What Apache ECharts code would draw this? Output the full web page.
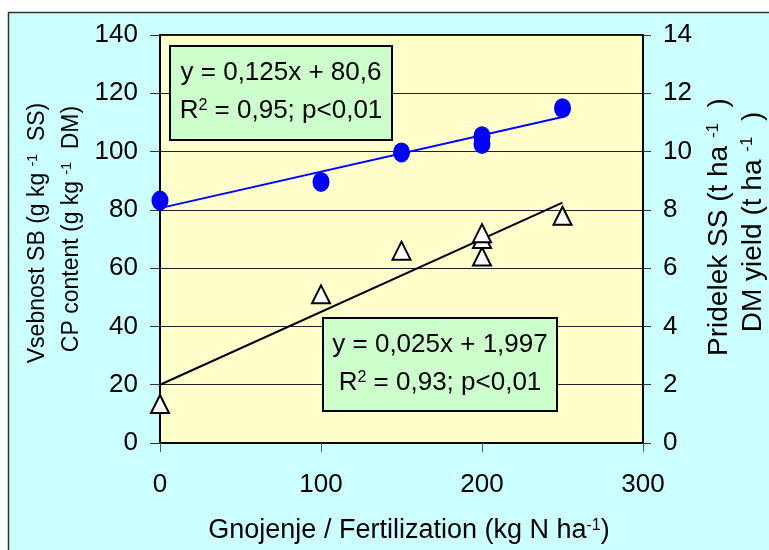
<!DOCTYPE html>
<html>
<head>
<meta charset="utf-8">
<title>Fertilization chart</title>
<script src="https://cdn.jsdelivr.net/npm/echarts@6/dist/echarts.min.js"></script>
<style>
  html, body { margin: 0; padding: 0; background: #fff; }
  #chart { width: 769px; height: 550px; }
</style>
</head>
<body>
<div id="chart"></div>
<script>
// crude protein content (left axis)
const cpX = [0, 100, 150, 200, 200, 250]
const cpY = [83.2, 89.6, 99.7, 102.6, 105.3, 114.9]
// DM yield (right axis)
const dmX = [0, 100, 150, 200, 200, 200, 250]
const dmY = [1.34, 5.1, 6.6, 6.4, 7.0, 7.2, 7.8]
// trend line ends
const trendX = [0, 250]
const cpTrend = [80.6, 111.85]
const dmTrend = [2.0, 8.25]
// texts
const leftTicks = [0, 20, 40, 60, 80, 100, 120, 140]
const rightTicks = [0, 2, 4, 6, 8, 10, 12, 14]
const xTicks = [0, 100, 200, 300]
const cpEq = ['y = 0,125x + 80,6', '0,95; p<0,01']
const dmEq = ['y = 0,025x + 1,997', '0,93; p<0,01']

const FONT = 'Liberation Sans, Arial, sans-serif'

function pairs(xs, ys) {
  return xs.map((x, i) => [x, ys[i]])
}

// rich text with a "-1" superscript
function supText(before, after, x, y, rot, size) {
  return {
    type: 'text',
    x: x,
    y: y,
    rotation: rot,
    z: 50,
    style: {
      text: '{a|' + before + '}{s|-1}{a|' + after + '}',
      align: 'center',
      verticalAlign: 'middle',
      rich: {
        a: { fontSize: size, fontFamily: FONT, fill: '#000' },
        s: { fontSize: Math.round(size * 0.6), fontFamily: FONT, fill: '#000', verticalAlign: 'top' }
      }
    }
  }
}

function eqBox(x, y, w, h, lines) {
  const cx = x + w / 2
  return [{
    type: 'rect',
    z: 40,
    shape: { x: x, y: y, width: w, height: h },
    style: { fill: '#ccffcc', stroke: '#000', lineWidth: 2 }
  }, {
    type: 'text',
    z: 41,
    x: cx,
    y: y + 27,
    style: { text: lines[0], align: 'center', verticalAlign: 'middle', fontSize: 26, fontFamily: FONT, fill: '#000' }
  }, {
    type: 'text',
    z: 41,
    x: cx,
    y: y + 65,
    style: {
      text: '{a|R}{s|2}{a| = ' + lines[1] + '}',
      align: 'center',
      verticalAlign: 'middle',
      rich: {
        a: { fontSize: 26, fontFamily: FONT, fill: '#000' },
        s: { fontSize: 16, fontFamily: FONT, fill: '#000', verticalAlign: 'top' }
      }
    }
  }]
}

const chart = echarts.init(document.getElementById('chart'))

const graphics = [
  // outer cyan panel, runs off the canvas
  {
    type: 'rect',
    z: -10,
    silent: true,
    shape: { x: 8.5, y: 12.5, width: 800, height: 600 },
    style: { fill: '#ccffff', stroke: '#333', lineWidth: 1.5 }
  },
  supText('Vsebnost SB (g kg ', '  SS)', 38, 233, Math.PI / 2, 23),
  supText('CP content (g kg ', '  DM)', 72, 229, Math.PI / 2, 23),
  supText('Pridelek SS (t ha ', '  )', 719, 227, Math.PI / 2, 28),
  supText('DM yield (t ha ', '  )', 753, 222, Math.PI / 2, 28),
  {
    type: 'text',
    x: 409,
    y: 531,
    z: 50,
    style: {
      text: '{a|Gnojenje / Fertilization (kg N ha}{s|-1}{a|)}',
      align: 'center',
      verticalAlign: 'middle',
      rich: {
        a: { fontSize: 27, fontFamily: FONT, fill: '#000' },
        s: { fontSize: 16, fontFamily: FONT, fill: '#000', verticalAlign: 'top' }
      }
    }
  }
].concat(eqBox(170, 46, 222, 94, cpEq), eqBox(323, 318, 234, 93, dmEq))

chart.setOption({
  animation: false,
  backgroundColor: '#fff',
  textStyle: { fontFamily: FONT },
  grid: {
    left: 160,
    top: 35,
    right: 126,
    bottom: 107,
    show: true,
    backgroundColor: '#ffffcc',
    borderColor: '#000',
    borderWidth: 2
  },
  xAxis: {
    type: 'value',
    min: xTicks[0],
    max: xTicks[xTicks.length - 1],
    interval: 100,
    axisLine: { show: true, lineStyle: { color: '#000', width: 2 } },
    axisTick: { show: true, inside: false, length: 9, lineStyle: { color: '#555', width: 1 } },
    axisLabel: { fontSize: 26, color: '#000', margin: 29 },
    splitLine: { show: false }
  },
  yAxis: [{
    type: 'value',
    position: 'left',
    min: leftTicks[0],
    max: leftTicks[leftTicks.length - 1],
    interval: 20,
    axisLine: { show: true, lineStyle: { color: '#000', width: 2 } },
    axisTick: { show: true, length: 10, lineStyle: { color: '#333', width: 1 } },
    axisLabel: { fontSize: 26, color: '#000', margin: 22 },
    splitLine: { show: true, lineStyle: { color: '#222', width: 1 } }
  }, {
    type: 'value',
    position: 'right',
    min: rightTicks[0],
    max: rightTicks[rightTicks.length - 1],
    interval: 2,
    axisLine: { show: true, lineStyle: { color: '#000', width: 2 } },
    axisTick: { show: true, length: 8, lineStyle: { color: '#333', width: 1 } },
    axisLabel: { fontSize: 26, color: '#000', margin: 20 },
    splitLine: { show: false }
  }],
  series: [
    {
      name: 'CP trend',
      type: 'line',
      yAxisIndex: 0,
      data: pairs(trendX, cpTrend),
      symbol: 'none',
      lineStyle: { color: '#0000ff', width: 2 },
      z: 3
    },
    {
      name: 'DM trend',
      type: 'line',
      yAxisIndex: 1,
      data: pairs(trendX, dmTrend),
      symbol: 'none',
      lineStyle: { color: '#000', width: 2 },
      z: 3
    },
    {
      name: 'CP content',
      type: 'scatter',
      yAxisIndex: 0,
      data: pairs(cpX, cpY),
      symbol: 'circle',
      symbolSize: [17, 20],
      itemStyle: { color: '#0000ff', opacity: 1 },
      z: 4
    },
    {
      name: 'DM yield',
      type: 'scatter',
      yAxisIndex: 1,
      data: pairs(dmX, dmY),
      symbol: 'triangle',
      symbolSize: [18, 18],
      itemStyle: { color: '#fff', borderColor: '#000', borderWidth: 2, opacity: 1 },
      z: 4
    }
  ],
  graphic: graphics
})
</script>
</body>
</html>
